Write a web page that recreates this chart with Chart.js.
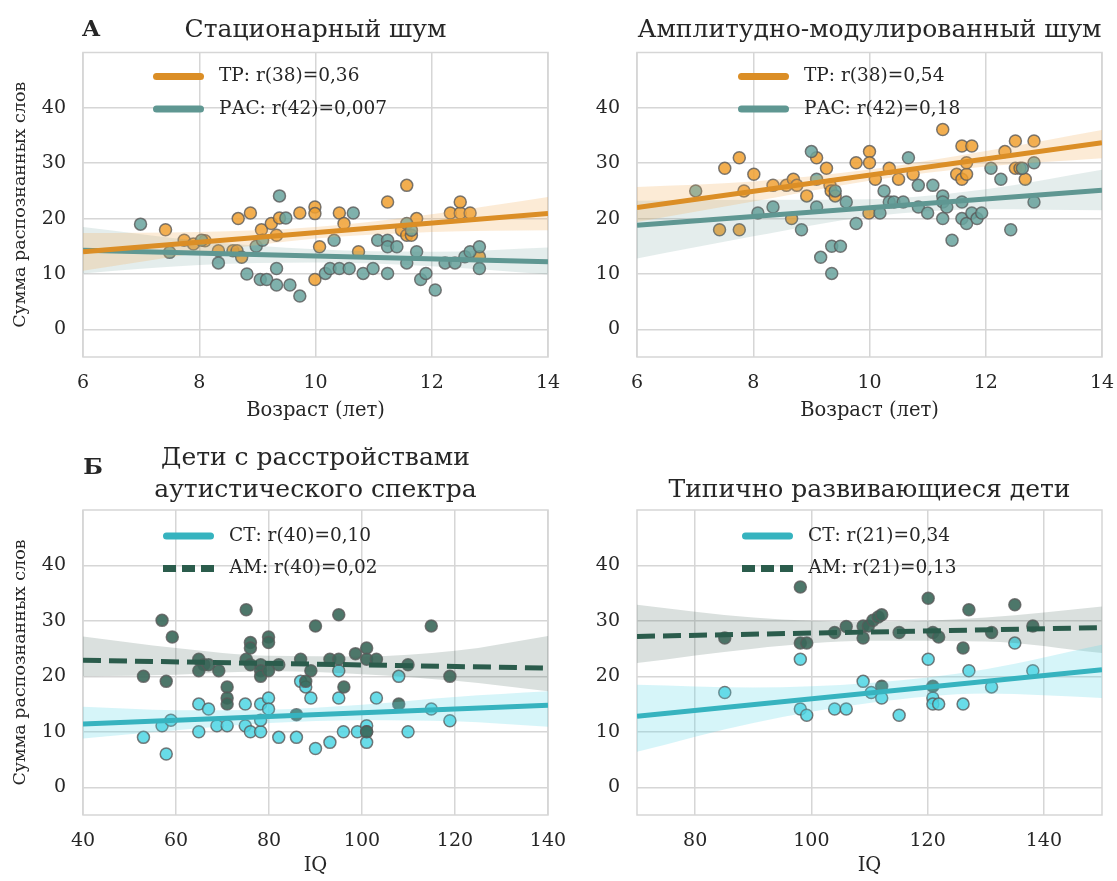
<!DOCTYPE html>
<html lang="ru">
<head>
<meta charset="utf-8">
<title>Сумма распознанных слов</title>
<script src="https://cdn.jsdelivr.net/npm/chart.js@4.4.1/dist/chart.umd.min.js"></script>
<style>
  html, body { margin: 0; padding: 0; background: #fff; }
  body { width: 1117px; height: 881px; position: relative; overflow: hidden; }
  canvas { position: absolute; }
</style>
</head>
<body>
<canvas id="statNoise" width="580" height="440" style="left:0;top:0"></canvas>
<canvas id="amNoise" width="527" height="440" style="left:590px;top:0"></canvas>
<canvas id="asdKids" width="580" height="441" style="left:0;top:440px"></canvas>
<canvas id="tdKids" width="527" height="441" style="left:590px;top:440px"></canvas>
<script>
// ---- tick labels
const ageTicks = [6, 8, 10, 12, 14];
const iqTicksAsd = [40, 60, 80, 100, 120, 140];
const iqTicksTd = [80, 100, 120, 140];
const scoreTicks = [0, 10, 20, 30, 40];

// ---- А: стационарный шум, [возраст, сумма слов]
const statTR = [[7.42,18],[7.74,16.1],[7.9,15.4],[8.1,16],[8.33,14.2],[8.58,14.2],[8.65,14.2],[8.73,13],[8.67,20],[8.88,21],[9.07,18],[9.24,19.1],[9.33,17],[9.38,20.1],[9.73,21],[9.99,22.1],[9.99,20.9],[10.07,14.9],[9.99,9],[10.41,21],[10.49,19.1],[10.74,14],[11.24,23],[11.57,26],[11.48,17.9],[11.57,17],[11.65,17],[11.74,20],[12.32,21],[12.49,21],[12.66,21],[12.49,23],[12.82,13.1]];
const statASD = [[6.99,19],[7.49,13.9],[8.04,16.1],[8.33,12],[8.82,10],[8.98,15],[9.09,16.1],[9.05,9],[9.16,9],[9.33,11],[9.33,8],[9.38,24.1],[9.49,20.1],[9.56,8],[9.73,6],[10.17,10.1],[10.25,11],[10.41,11],[10.58,11],[10.32,16.1],[10.65,21],[10.82,10.1],[10.99,11],[11.07,16.1],[11.24,16.1],[11.24,10.1],[11.24,14.9],[11.4,14.9],[11.57,19.1],[11.65,17.9],[11.74,14],[11.57,12],[11.81,9],[11.9,10.1],[12.06,7.1],[12.23,12],[12.4,12],[12.57,13.1],[12.66,14],[12.82,14.9],[12.82,11]];
const statTRLine = [14.0, 20.9];
const statASDLine = [14.3, 12.2];
const ageBandX = [6, 8, 10, 12, 14];
const statTRLo = [10.6, 13.8, 16.4, 17.6, 17.9];
const statTRHi = [17.4, 17.6, 18.5, 20.8, 23.9];
const statASDLo = [10.1, 11.6, 12.05, 11.4, 9.9];
const statASDHi = [18.5, 16.0, 14.45, 14.0, 14.8];

// ---- А: амплитудно-модулированный шум
const amTR = [[7.51,29.1],[7.76,31],[7.84,25],[8.01,28],[7.42,18],[7.76,18],[8.34,26],[8.57,26],[8.69,27.1],[8.75,26],[8.66,20],[8.92,24.1],[9.09,31],[9.26,29.1],[9.32,26],[9.34,25],[9.41,24.1],[9.77,30.1],[10.0,32.1],[10.0,30.1],[9.99,21],[10.1,27.1],[10.34,29.1],[10.5,27.1],[10.75,28],[11.26,36.1],[11.59,33.1],[11.76,33.1],[11.5,28],[11.59,27.1],[11.67,28],[11.67,30.1],[12.33,32.1],[12.51,34],[12.51,29.1],[12.59,29.1],[12.68,27.1],[12.83,34]];
const amASD = [[7.01,25],[8.08,21],[8.34,22.1],[8.83,18],[9.0,32.1],[9.09,27.1],[9.09,22.1],[9.41,25],[9.6,23],[9.16,13],[9.35,15],[9.5,15],[9.35,10.1],[9.77,19.1],[10.18,21],[10.25,25],[10.34,23],[10.42,23],[10.58,23],[10.67,31],[10.84,22.1],[10.84,26],[11.0,21],[11.09,26],[11.26,24.1],[11.26,23],[11.33,22.1],[11.26,20],[11.42,16.1],[11.59,23],[11.59,20],[11.67,19.1],[11.76,21],[11.85,20],[11.93,21],[12.09,29.1],[12.26,27.1],[12.43,18],[12.63,29.1],[12.83,30.1],[12.83,23]];
const amTRLine = [22.0, 33.7];
const amASDLine = [18.8, 25.1];
const amTRLo = [19.4, 23.1, 26.85, 29.4, 30.9];
const amTRHi = [25.7, 26.7, 28.85, 32.2, 36.0];
const amASDLo = [12.8, 16.8, 20.4, 21.7, 21.5];
const amASDHi = [23.2, 23.4, 23.5, 25.3, 28.8];

// ---- Б: дети с РАС, [IQ, сумма слов]
const asdCT = [[53,9],[57,11.1],[57.9,6],[58.9,12.1],[64.9,15],[67,14.1],[64.9,10],[68.8,11.1],[71,11.1],[74.9,15],[74.9,11.1],[76,10],[78.2,10],[78.2,15],[79.9,16.1],[79.9,14.1],[78.2,12.1],[82.1,9],[85.9,9],[86.8,19.1],[87.9,18.1],[89,16.1],[90,7],[93.1,8.1],[95,21],[95,16.1],[96,10],[99,10],[101,11.1],[101,10],[101,8.1],[103.1,16.1],[107.9,20],[109.9,10],[118.9,12],[114.9,14.1]];
const asdAM = [[57,30.1],[59.2,27.1],[53,20],[57.9,19.1],[64.9,23.1],[66,22.1],[64.9,21],[67,22.1],[69.2,21],[71,18.1],[71,16.1],[71,15],[75.1,32],[76,26.1],[76,25.1],[75.1,23.1],[76,22.1],[78.2,22.1],[78.2,21],[78.2,20],[79.9,27.1],[79.9,26.1],[79.9,21],[82.1,22.1],[86.8,23.1],[89,21],[90,29.1],[87.9,19.1],[85.9,13.1],[95,31.1],[93.1,23.1],[95,23.1],[96.1,18.1],[98.6,24.1],[101,25.1],[101,23.1],[103.1,23.1],[109.9,22.1],[114.9,29.1],[118.9,20],[107.9,15],[101,10]];
const asdCTLine = [11.4, 14.8];
const asdAMLine = [22.9, 21.5];
const asdBandX = [40, 60, 80, 100, 120, 140];
const asdCTLo = [8.8, 10.3, 11.6, 12.1, 11.9, 10.9];
const asdCTHi = [14.5, 13.9, 14.0, 14.9, 16.3, 17.3];
const asdAMLo = [20.0, 20.3, 20.9, 20.4, 19.2, 17.3];
const asdAMHi = [27.2, 25.1, 23.7, 23.6, 24.6, 27.3];

// ---- Б: типично развивающиеся дети
const tdCT = [[85.1,17.1],[98.1,23.1],[98.1,14.1],[99.2,13],[104,14.1],[106,14.1],[108.9,19.1],[110.3,17.1],[112.1,16.1],[115.1,13],[120.1,23.1],[120.9,16.1],[120.9,15],[121.9,15],[126.1,15],[127.1,21],[131,18.1],[135,26],[138.1,21]];
const tdAM = [[85.1,26.9],[98.1,36.1],[98.1,26],[99.2,26],[104,27.9],[106,29],[108.9,29.1],[108.9,26.9],[109.8,29.1],[110.6,30.1],[111.5,30.7],[112.1,31.1],[112.1,18.2],[115.1,27.9],[120.1,34.1],[120.9,27.9],[121.9,27.1],[120.9,18.2],[126.1,25.1],[127.1,32],[131,27.9],[135,32.9],[138.1,29.1]];
const tdCTLine = [12.8, 21.2];
const tdAMLine = [27.2, 28.8];
const tdBandX = [70, 90, 110, 130, 150];
const tdCTLo = [6.4, 11.6, 15.2, 16.9, 16.1];
const tdCTHi = [18.5, 18.0, 18.8, 21.3, 25.7];
const tdAMLo = [22.4, 25.0, 26.4, 26.3, 24.2];
const tdAMHi = [32.9, 30.6, 29.8, 30.6, 32.6];

const ink = '#262626';
const gridColor = '#d6d6d6';
const edge = 'rgba(90,90,90,0.8)';
const pal = {
  tr:  { point: 'rgba(240,160,48,0.85)', line: '#db8e26', band: 'rgba(245,175,90,0.25)' },
  asd: { point: 'rgba(104,163,157,0.85)', line: '#5f9792', band: 'rgba(95,150,145,0.17)' },
  ct:  { point: 'rgba(78,214,228,0.85)', line: '#36b3bf', band: 'rgba(90,215,230,0.25)' },
  am:  { point: 'rgba(58,104,90,0.9)', line: '#2b5c4c', band: 'rgba(70,100,90,0.2)' }
};

Chart.defaults.font.family = '"DejaVu Serif", serif';
Chart.defaults.color = ink;
Chart.defaults.animation = false;

const frame = {
  id: 'frame',
  beforeDatasetsDraw(chart) {
    const { ctx, chartArea: a } = chart;
    ctx.save();
    ctx.strokeStyle = gridColor;
    ctx.lineWidth = 1.5;
    ctx.strokeRect(a.left, a.top, a.width, a.height);
    ctx.restore();
  }
};

// legend drawn inside the plot like the seaborn one
const lineLegend = {
  id: 'lineLegend',
  afterDatasetsDraw(chart, args, opts) {
    const { ctx, chartArea: a } = chart;
    ctx.save();
    ctx.font = '18.5px "DejaVu Serif"';
    ctx.textBaseline = 'middle';
    opts.items.forEach((it, i) => {
      const x = a.left + opts.left;
      const y = a.top + opts.top + i * 32.5;
      ctx.strokeStyle = it.color;
      ctx.lineWidth = 7;
      ctx.beginPath();
      if (it.dash) {
        ctx.lineCap = 'butt';
        ctx.setLineDash([13, 6]);
        ctx.moveTo(x, y); ctx.lineTo(x + 51, y);
      } else {
        ctx.lineCap = 'round';
        ctx.moveTo(x + 3.5, y); ctx.lineTo(x + 47.5, y);
      }
      ctx.stroke();
      ctx.setLineDash([]);
      ctx.fillStyle = ink;
      ctx.fillText(it.text, x + 66, y);
    });
    ctx.restore();
  }
};

const panelLetter = {
  id: 'panelLetter',
  afterDraw(chart, args, opts) {
    if (!opts.text) return;
    const ctx = chart.ctx;
    ctx.save();
    ctx.font = 'bold 23px "DejaVu Serif"';
    ctx.fillStyle = ink;
    ctx.textAlign = 'center';
    ctx.textBaseline = 'middle';
    ctx.fillText(opts.text, opts.x, opts.y);
    ctx.restore();
  }
};

function xy(xs, ys) {
  return xs.map((x, i) => ({ x, y: ys[i] }));
}

function makePanel(id, o) {
  const lines = [], bands = [], dots = [];
  o.series.forEach(s => {
    lines.push({
      type: 'line', label: s.label, data: xy([o.xMin, o.xMax], s.line),
      borderColor: s.pal.line, borderWidth: 5, borderDash: s.dash ? [18, 8] : [],
      pointRadius: 0, fill: false
    });
    bands.push({
      type: 'line', data: xy(o.bandX, s.hi), borderColor: 'transparent', borderWidth: 0,
      pointRadius: 0, fill: false, cubicInterpolationMode: 'monotone'
    }, {
      type: 'line', data: xy(o.bandX, s.lo), borderColor: 'transparent', borderWidth: 0,
      pointRadius: 0, fill: '-1', backgroundColor: s.pal.band, cubicInterpolationMode: 'monotone'
    });
    dots.unshift({
      type: 'scatter', data: s.points.map(([x, y]) => ({ x, y })),
      backgroundColor: s.pal.point, borderColor: edge, borderWidth: 1.5, pointRadius: 6
    });
  });

  new Chart(document.getElementById(id), {
    type: 'scatter',
    data: { datasets: lines.concat(bands, dots) },
    plugins: [frame, lineLegend, panelLetter],
    options: {
      responsive: false,
      events: [],
      layout: { padding: { right: o.padRight }, autoPadding: false },
      plugins: {
        legend: { display: false },
        tooltip: { enabled: false },
        title: {
          display: true, text: o.title, fullSize: false, color: ink,
          font: { size: 25, weight: 'normal', lineHeight: 1.3 },
          padding: o.titlePad
        },
        lineLegend: {
          left: o.legendLeft, top: o.legendTop,
          items: o.series.map(s => ({ text: s.label, color: s.pal.line, dash: s.dash }))
        },
        panelLetter: o.letter || {}
      },
      scales: {
        x: {
          type: 'linear', min: o.xMin, max: o.xMax,
          afterBuildTicks: s => { s.ticks = o.xTicks.map(v => ({ value: v })); },
          afterFit: s => { s.height = o.xAxisH; s.paddingLeft = 0; s.paddingRight = 0; },
          grid: { color: gridColor, lineWidth: 1.5, drawTicks: false },
          border: { display: false },
          ticks: { padding: 15, font: { size: 19 }, maxRotation: 0, autoSkip: false },
          title: { display: true, text: o.xTitle, font: { size: 19.5 }, padding: { top: 0, bottom: o.xTitlePad } }
        },
        y: {
          type: 'linear', min: -5, max: 50,
          afterBuildTicks: s => { s.ticks = scoreTicks.map(v => ({ value: v })); },
          afterFit: s => { s.width = o.yAxisW; s.paddingTop = 0; s.paddingBottom = 0; },
          grid: { color: gridColor, lineWidth: 1.5, drawTicks: false },
          border: { display: false },
          ticks: { padding: 17, font: { size: 19 } },
          title: { display: !!o.yTitle, text: o.yTitle, font: { size: 17.5 }, padding: { top: 9.5, bottom: 0 } }
        }
      }
    }
  });
}

const yLabel = 'Сумма распознанных слов';

makePanel('statNoise', {
  title: 'Стационарный шум', titlePad: { top: 13.75, bottom: 6.25 },
  letter: { text: 'А', x: 91, y: 30 },
  xMin: 6, xMax: 14, xTicks: ageTicks, bandX: ageBandX, xTitle: 'Возраст (лет)', xTitlePad: 17.3,
  xAxisH: 83, yAxisW: 83, padRight: 32, yTitle: yLabel,
  legendLeft: 70, legendTop: 24,
  series: [
    { label: 'ТР: r(38)=0,36', points: statTR, line: statTRLine, lo: statTRLo, hi: statTRHi, pal: pal.tr },
    { label: 'РАС: r(42)=0,007', points: statASD, line: statASDLine, lo: statASDLo, hi: statASDHi, pal: pal.asd }
  ]
});

makePanel('amNoise', {
  title: 'Амплитудно-модулированный шум', titlePad: { top: 13.75, bottom: 6.25 },
  xMin: 6, xMax: 14, xTicks: ageTicks, bandX: ageBandX, xTitle: 'Возраст (лет)', xTitlePad: 17.3,
  xAxisH: 83, yAxisW: 47, padRight: 15,
  legendLeft: 101, legendTop: 24,
  series: [
    { label: 'ТР: r(38)=0,54', points: amTR, line: amTRLine, lo: amTRLo, hi: amTRHi, pal: pal.tr },
    { label: 'РАС: r(42)=0,18', points: amASD, line: amASDLine, lo: amASDLo, hi: amASDHi, pal: pal.asd }
  ]
});

makePanel('asdKids', {
  title: ['Дети с расстройствами', 'аутистического спектра'], titlePad: { top: 1.75, bottom: 3.25 },
  letter: { text: 'Б', x: 93, y: 28 },
  xMin: 40, xMax: 140, xTicks: iqTicksAsd, bandX: asdBandX, xTitle: 'IQ', xTitlePad: 3.3,
  xAxisH: 66, yAxisW: 83, padRight: 32, yTitle: yLabel,
  legendLeft: 80, legendTop: 26,
  series: [
    { label: 'СТ: r(40)=0,10', points: asdCT, line: asdCTLine, lo: asdCTLo, hi: asdCTHi, pal: pal.ct },
    { label: 'АМ: r(40)=0,02', points: asdAM, line: asdAMLine, lo: asdAMLo, hi: asdAMHi, pal: pal.am, dash: true }
  ]
});

makePanel('tdKids', {
  title: 'Типично развивающиеся дети', titlePad: { top: 33.75, bottom: 3.75 },
  xMin: 70, xMax: 150, xTicks: iqTicksTd, bandX: tdBandX, xTitle: 'IQ', xTitlePad: 3.3,
  xAxisH: 66, yAxisW: 47, padRight: 15,
  legendLeft: 105, legendTop: 26,
  series: [
    { label: 'СТ: r(21)=0,34', points: tdCT, line: tdCTLine, lo: tdCTLo, hi: tdCTHi, pal: pal.ct },
    { label: 'АМ: r(21)=0,13', points: tdAM, line: tdAMLine, lo: tdAMLo, hi: tdAMHi, pal: pal.am, dash: true }
  ]
});
</script>
</body>
</html>
